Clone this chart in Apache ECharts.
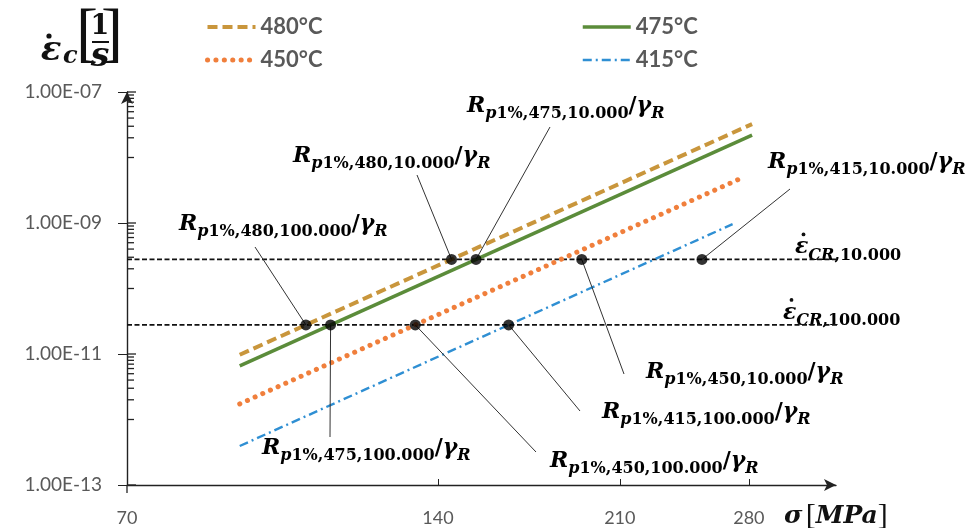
<!DOCTYPE html>
<html><head><meta charset="utf-8">
<script src="https://cdn.jsdelivr.net/npm/echarts@6/dist/echarts.min.js"></script>
<style>html,body{margin:0;padding:0;background:#fff}#c{width:971px;height:528px}</style>
</head><body><div id="c"></div>
<script>
// ---- data ----
const seriesNames = ['480°C', '475°C', '450°C', '415°C'];
const stressStart = [90, 90, 90, 90];
const stressEnd = [282, 282, 276, 270];
const rateStart = [9.75e-12, 6.6e-12, 1.73e-12, 3.94e-13];
const rateEnd = [3.24e-8, 2.19e-8, 4.92e-9, 9.6e-10];
const epsCR = [2.78e-10, 2.78e-11];            // 10.000 h, 100.000 h
const epsCRNames = ['10.000', '100.000'];
const lineStressMin = 70, lineStressMax = 345;
const rp10000 = [144.3, 152.4, 192.9, 252.2];  // 480, 475, 450, 415 °C
const rp100000 = [104.3, 110.2, 133.1, 163.9];
const temps = ['480', '475', '450', '415'];
const xTicks = [70, 140, 210, 280];
const yTicks = [1e-13, 1e-11, 1e-9, 1e-7];
const yMinorTicks = [];
[-8, -10, -12].forEach(e => { for (let k = 1; k <= 9; k++) yMinorTicks.push(k * Math.pow(10, e)); });

// ---- styles ----
const colors = ['#C9963C', '#5B8C3A', '#F07F3C', '#2F8FD3'];
const lineTypes = [[10, 5], 'solid', [0.1, 8.3], [9, 4, 2, 4]];
const lineWidths = [4, 3.5, 5, 2.4];
const grey = '#595959';
const serif = '"DejaVu Serif", serif';
const thinSerif = '"Liberation Serif", serif';

const chart = echarts.init(document.getElementById('c'));

const series = [];
seriesNames.forEach((n, i) => {
  series.push({
    name: n, type: 'line', symbol: 'none', silent: true,
    data: [[stressStart[i], rateStart[i]], [stressEnd[i], rateEnd[i]]],
    lineStyle: { color: colors[i], width: lineWidths[i], type: lineTypes[i], cap: i === 2 ? 'round' : 'butt' },
    itemStyle: { color: colors[i] },
    z: 3
  });
});
epsCR.forEach((v, k) => {
  series.push({
    type: 'line', symbol: 'none', silent: true, clip: false,
    data: [[lineStressMin, v], [lineStressMax, v]],
    lineStyle: { color: '#111', width: 1.6, type: [5, 2.5] },
    z: 2
  });
});
const dots = [];
temps.forEach((t, i) => { dots.push([rp10000[i], epsCR[0]]); dots.push([rp100000[i], epsCR[1]]); });
series.push({
  type: 'scatter', symbol: 'circle', symbolSize: 11, silent: true,
  data: dots, itemStyle: { color: '#000' }, z: 6
});
// y-axis inner tick parts (dx) and the crossing tick at the origin (dy)
series.push({
  type: 'custom', silent: true, clip: false,
  data: yMinorTicks.map(v => [70, v, 7, 0]).concat(yTicks.map(v => [70, v, 9, 0])).concat([[70, 1e-13, 0, 8]]),
  renderItem: (params, api) => {
    const p = api.coord([api.value(0), api.value(1)]);
    return { type: 'line', shape: { x1: p[0], y1: p[1], x2: p[0] + api.value(2), y2: p[1] + api.value(3) },
      style: { stroke: '#222', lineWidth: 1.3 } };
  },
  z: 1
});

const legendText = { fontFamily: 'Lato', fontWeight: 'bold', fontSize: 22, color: grey };
const legendCommon = { top: 11, orient: 'vertical', itemWidth: 48, itemHeight: 22, itemGap: 11,
  textStyle: legendText, itemStyle: { opacity: 0 }, lineStyle: { width: 'inherit' } };
chart.setOption({
  animation: false,
  backgroundColor: '#fff',
  grid: { left: 127, right: 135, top: 92, bottom: 43, outerBoundsMode: 'none', containLabel: false },
  legend: [
    Object.assign({ data: ['480°C', '450°C'], left: 200 }, legendCommon),
    Object.assign({ data: ['475°C', '415°C'], left: 576 }, legendCommon)
  ],
  xAxis: {
    type: 'log', logBase: 10, min: 70, max: 340,
    axisLine: { lineStyle: { color: '#222', width: 1.4 }, symbol: ['none', 'arrow'], symbolSize: [9, 12] },
    axisTick: { inside: true, length: 6, lineStyle: { color: '#222' }, customValues: xTicks },
    axisLabel: { customValues: xTicks, color: grey, fontFamily: 'Lato', fontSize: 18, margin: 24 },
    splitLine: { show: false }, minorTick: { show: false },
    name: '{s|σ} {b|[}{m|MPa}{b|]}', nameLocation: 'end', nameGap: -52,
    nameTextStyle: { align: 'left', verticalAlign: 'top', padding: [16, 0, 0, 0],
      rich: {
        s: { fontFamily: serif, fontStyle: 'italic', fontWeight: 'bold', fontSize: 25, color: '#111' },
        b: { fontFamily: thinSerif, fontSize: 30, color: '#111' },
        m: { fontFamily: serif, fontStyle: 'italic', fontWeight: 'bold', fontSize: 25, color: '#111' }
      } }
  },
  yAxis: {
    type: 'log', logBase: 10, min: 1e-13, max: 1e-7,
    axisLine: { show: true, lineStyle: { color: '#222', width: 1.4 }, symbol: ['none', 'arrow'], symbolSize: [9, 12] },
    axisTick: { show: true, length: 9, lineStyle: { color: '#222' }, customValues: yTicks },
    axisLabel: { customValues: yTicks, color: grey, fontFamily: 'Lato', fontSize: 19, margin: 25,
      formatter: v => v.toExponential(2).toUpperCase().replace(/E([+-])(\d)$/, 'E$10$2') },
    splitLine: { show: false }, minorTick: { show: false }
  },
  series: series
});

// ---- annotations ----
const richR = {
  R: { fontFamily: serif, fontStyle: 'italic', fontWeight: 'bold', fontSize: 22, lineHeight: 24, verticalAlign: 'top', color: '#111' },
  pi: { fontFamily: serif, fontStyle: 'italic', fontWeight: 'bold', fontSize: 16, lineHeight: 16, padding: [11, 0, 0, 0], verticalAlign: 'top', color: '#111' },
  sn: { fontFamily: serif, fontWeight: 'bold', fontSize: 16, lineHeight: 16, padding: [11, 0, 0, 0], verticalAlign: 'top', color: '#111' },
  sl: { fontFamily: serif, fontWeight: 'bold', fontSize: 22, lineHeight: 24, verticalAlign: 'top', color: '#111' },
  e: { fontFamily: serif, fontStyle: 'italic', fontWeight: 'bold', fontSize: 22, lineHeight: 24, verticalAlign: 'top', color: '#111' }
};
function rpText(t, h) { return '{R|R}{pi|p}{sn|1%,' + t + ',' + h + '}{sl|/}{e|γ}{pi|R}'; }
// leader end and text top-left in pixels
const annot = [
  { pt: [rp100000[0], epsCR[1]], t: '480', h: '100.000', end: [255, 247], pos: [179, 213] },
  { pt: [rp10000[0], epsCR[0]], t: '480', h: '10.000', end: [417, 175], pos: [293, 145] },
  { pt: [rp10000[1], epsCR[0]], t: '475', h: '10.000', end: [550, 127], pos: [467, 95] },
  { pt: [rp10000[3], epsCR[0]], t: '415', h: '10.000', end: [790, 189], pos: [768, 151] },
  { pt: [rp10000[2], epsCR[0]], t: '450', h: '10.000', end: [624, 374], pos: [646, 361] },
  { pt: [rp100000[3], epsCR[1]], t: '415', h: '100.000', end: [580, 411], pos: [602, 401] },
  { pt: [rp100000[2], epsCR[1]], t: '450', h: '100.000', end: [536, 452], pos: [550, 450] },
  { pt: [rp100000[1], epsCR[1]], t: '475', h: '100.000', end: [330, 437], pos: [262, 437] }
];
const graphics = [];
annot.forEach(a => {
  const p = chart.convertToPixel({ gridIndex: 0 }, a.pt);
  graphics.push({ type: 'line', silent: true, z: 5, shape: { x1: p[0], y1: p[1], x2: a.end[0], y2: a.end[1] }, style: { stroke: '#333', lineWidth: 1 } });
  graphics.push({ type: 'text', silent: true, x: a.pos[0], y: a.pos[1], style: { text: rpText(a.t, a.h), rich: richR, align: 'left', verticalAlign: 'top' } });
});
const epsLeft = [795, 783];
epsCR.forEach((v, k) => {
  const p = chart.convertToPixel({ gridIndex: 0 }, [lineStressMax, v]);
  graphics.push({ type: 'text', silent: true, x: epsLeft[k], y: p[1] - 23, style: {
    text: '{e|ε}{pi|CR}{sn|,' + epsCRNames[k] + '}', rich: richR, align: 'left', verticalAlign: 'top' } });
  graphics.push({ type: 'circle', silent: true, shape: { cx: epsLeft[k] + 8.5, cy: p[1] - 25, r: 1.9 }, style: { fill: '#111' } });
});
// y axis name
const yn = { fill: '#111', fontFamily: serif };
graphics.push(
  { type: 'text', silent: true, x: 51, y: 51, style: Object.assign({ text: 'ε', fontSize: 34, fontStyle: 'italic', fontWeight: 'bold', align: 'center', verticalAlign: 'middle' }, yn) },
  { type: 'circle', silent: true, shape: { cx: 49, cy: 36, r: 2.6 }, style: { fill: '#111' } },
  { type: 'text', silent: true, x: 63, y: 57, style: Object.assign({ text: 'c', fontSize: 24, fontStyle: 'italic', fontWeight: 'bold', align: 'left', verticalAlign: 'middle' }, yn) },
  { type: 'text', silent: true, x: 87, y: 37, style: { text: '[', fontSize: 66, fontFamily: thinSerif, fill: '#111', align: 'center', verticalAlign: 'middle' } },
  { type: 'text', silent: true, x: 112, y: 37, style: { text: ']', fontSize: 66, fontFamily: thinSerif, fill: '#111', align: 'center', verticalAlign: 'middle' } },
  { type: 'text', silent: true, x: 100, y: 27, style: Object.assign({ text: '1', fontSize: 27, fontWeight: 'bold', align: 'center', verticalAlign: 'middle' }, yn) },
  { type: 'line', silent: true, shape: { x1: 92, y1: 42, x2: 109, y2: 42 }, style: { stroke: '#111', lineWidth: 2 } },
  { type: 'text', silent: true, x: 100, y: 57, style: Object.assign({ text: 's', fontSize: 33, fontStyle: 'italic', fontWeight: 'bold', align: 'center', verticalAlign: 'middle' }, yn) }
);
chart.setOption({ graphic: graphics });
</script>
</body></html>
